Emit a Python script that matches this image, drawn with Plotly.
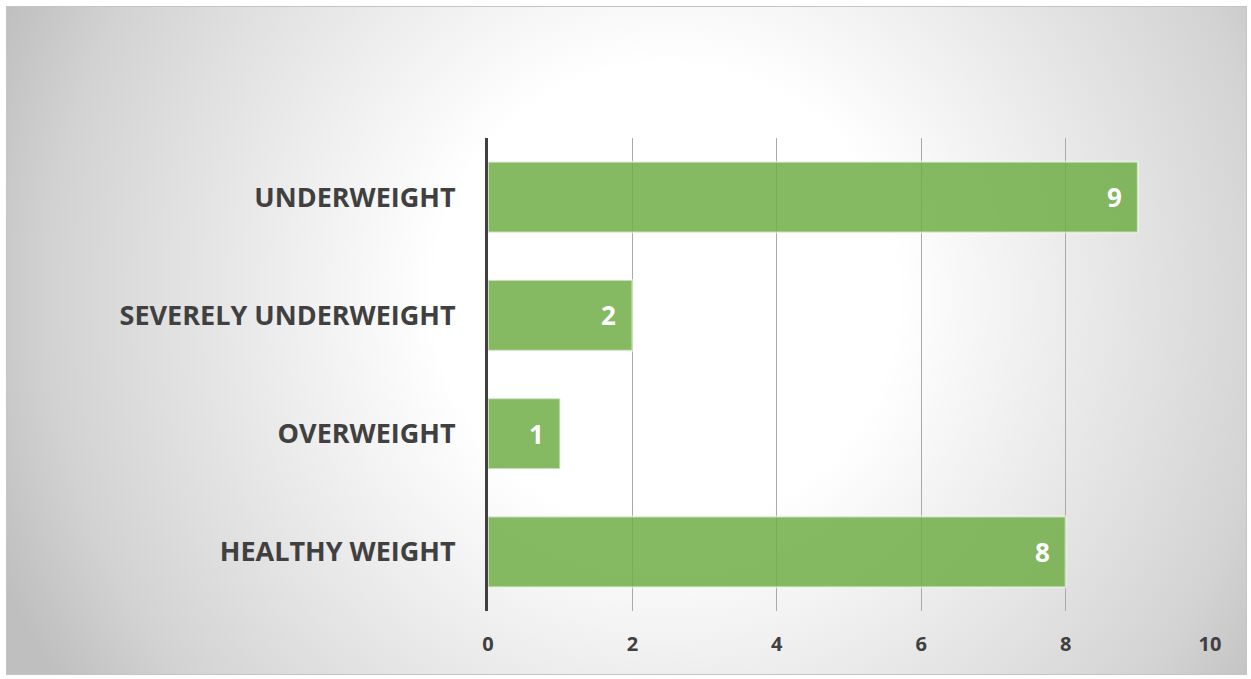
import base64
import plotly.graph_objects as go

# Weight-status counts, listed top to bottom
categories = ["UNDERWEIGHT", "SEVERELY UNDERWEIGHT", "OVERWEIGHT", "HEALTHY WEIGHT"]
counts = [9, 2, 1, 8]
x_ticks = [0, 2, 4, 6, 8, 10]

W, H = 1251, 679
# plot-area box in pixels
L, R, T, B = 488, 1210, 138, 611
# outer chart frame in pixels
FX0, FY0, FX1, FY1 = 6, 6, 1247, 675


def px_to_paper_x(px):
    return (px - L) / (R - L)


def px_to_paper_y(py):
    return (B - py) / (B - T)


fw, fh = FX1 - FX0, FY1 - FY0
svg = f"""<svg xmlns='http://www.w3.org/2000/svg' width='{fw}' height='{fh}' viewBox='0 0 {fw} {fh}' preserveAspectRatio='none'>
<defs><radialGradient id='g' gradientUnits='userSpaceOnUse' cx='660' cy='290' r='720'>
<stop offset='0' stop-color='#ffffff'/>
<stop offset='0.32' stop-color='#ffffff'/>
<stop offset='0.48' stop-color='#f2f2f2'/>
<stop offset='0.85' stop-color='#d3d3d3'/>
<stop offset='1' stop-color='#bfbfbf'/>
</radialGradient></defs>
<rect x='0' y='0' width='{fw}' height='{fh}' fill='url(#g)'/>
</svg>"""
bg_src = "data:image/svg+xml;base64," + base64.b64encode(svg.encode()).decode()

fig = go.Figure()
fig.add_trace(go.Bar(
    x=counts,
    y=categories,
    orientation="h",
    width=0.6,
    marker=dict(color="rgba(112,173,71,0.85)",
                line=dict(color="rgba(255,255,255,0.55)", width=2)),
    hoverinfo="x+y",
))

# value labels just inside the bar ends
annotations = [
    dict(x=v, y=c, xref="x", yref="y", text=str(v), showarrow=False,
         xanchor="right", xshift=-14,
         font=dict(family="Open Sans", size=26, color="white", weight="bold"))
    for c, v in zip(categories, counts)
]

fig.update_layout(
    width=W, height=H,
    margin=dict(l=L, r=W - R, t=T, b=H - B, pad=0),
    paper_bgcolor="white",
    plot_bgcolor="rgba(0,0,0,0)",
    showlegend=False,
    annotations=annotations,
    images=[dict(
        source=bg_src, xref="paper", yref="paper",
        x=px_to_paper_x(FX0), y=px_to_paper_y(FY0),
        sizex=(FX1 - FX0) / (R - L), sizey=(FY1 - FY0) / (B - T),
        xanchor="left", yanchor="top", sizing="stretch", layer="below",
    )],
    shapes=[dict(
        type="rect", xref="paper", yref="paper",
        x0=px_to_paper_x(FX0 + 0.5), x1=px_to_paper_x(FX1 - 0.5),
        y0=px_to_paper_y(FY0 + 0.5), y1=px_to_paper_y(FY1 - 0.5),
        line=dict(color="#c4c4c4", width=1), layer="below",
    )],
    xaxis=dict(
        range=[0, 10], tickvals=x_ticks, ticktext=[str(t) for t in x_ticks],
        showgrid=True, gridcolor="#aaaaaa", gridwidth=1,
        zeroline=False, showline=False, ticks="",
        ticklabelstandoff=19,
        tickfont=dict(family="Open Sans", size=20, color="#404040", weight="bold"),
        fixedrange=True,
    ),
    yaxis=dict(
        autorange="reversed", type="category",
        showgrid=False, zeroline=False,
        showline=True, linecolor="#404040", linewidth=3,
        ticks="", ticklabelstandoff=24,
        tickfont=dict(family="Open Sans", size=27, color="#404040", weight="bold"),
        fixedrange=True,
    ),
)

fig.write_html("out.html")
